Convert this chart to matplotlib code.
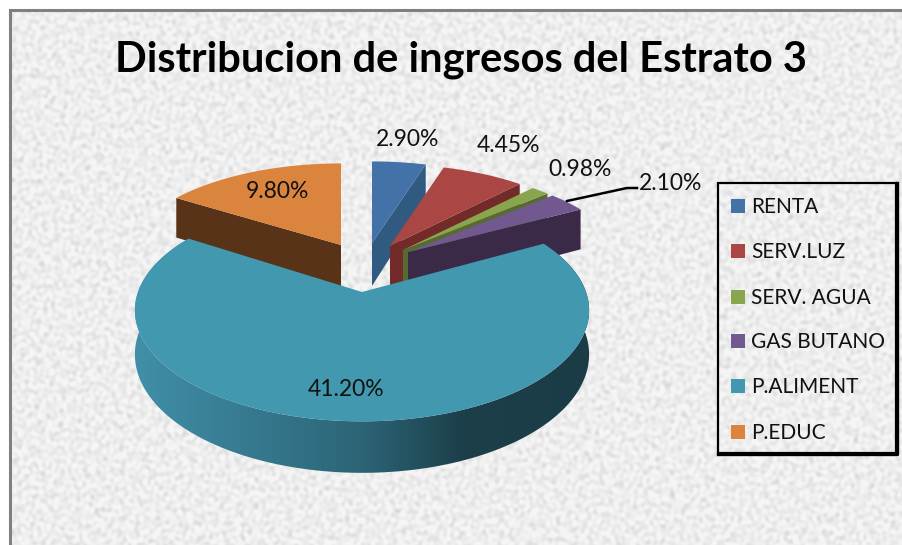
from matplotlib import pyplot as plt
from matplotlib.colors import LinearSegmentedColormap
from matplotlib.patches import Polygon, Rectangle
import numpy as np

categories=['RENTA','SERV.LUZ','SERV. AGUA','GAS BUTANO','P.ALIMENT','P.EDUC']
values=[2.90,4.45,0.98,2.10,41.20,9.80]
value_labels=['2.90%','4.45%','0.98%','2.10%','41.20%','9.80%']
title='Distribucion de ingresos del Estrato 3'

top_colors=['#4372a8','#aa4643','#89a54e','#71588f','#4198af','#db843d']
side_colors=['#315a80','#722b29','#566b30','#3a2a48','#4198af','#583318']

#   Layout, in pixels of the 902x545 picture
apex={0:(372,243),1:(390,246),2:(403,250),3:(408,252),4:(362,292),5:(341,245)}
shrink={0:(.95,.88),1:(.95,.88),2:(.95,.88),3:(.95,.88),4:(1,1),5:(.95,.88)}
label_pos=[(408,140),(508,145),(580,170),(671,184),(346,389),(277,191)]
legend_y=[206,251,297,341,386,432]
RX=224
RY=108
PERSP=.165
DEPTH=43
FONT='Lato'

def Project(i,theta):
    u=np.sin(np.radians(theta))
    v=np.cos(np.radians(theta))
    s=1/(1+PERSP*v)
    x=apex[i][0]+shrink[i][0]*RX*u*s
    y=apex[i][1]-shrink[i][1]*RY*v*s
    return x,y,DEPTH*s

def Draw_background(ax):
    yy,xx=np.mgrid[0:545,0:902]
    tex=np.zeros(xx.shape)
    #   Mottled paper made of many crossing waves
    for i in range(140):
        ang=i*2.399963
        freq=.3+.06*(i%13)
        tex+=np.sin(freq*(xx*np.cos(ang)+yy*np.sin(ang))+i*i*.73)
    tex=tex/tex.std()
    tex=np.minimum(tex,1.2)
    grey=np.clip(.93+.024*tex,0,1)
    ax.imshow(grey,cmap='gray',vmin=0,vmax=1,extent=(0,902,545,0),
              interpolation='bilinear',aspect='auto',zorder=0)
    ax.add_patch(Rectangle((0,0),902,8,color='w',zorder=1))
    ax.add_patch(Rectangle((0,0),8,545,color='w',zorder=1))
    ax.plot([9.5,9.5,902],[545,9.5,9.5],color='#808080',lw=2.2,zorder=2,solid_joinstyle='miter')

def Draw_slice(ax,i,a0,a1,order):
    t=np.linspace(a0,a1,160)
    x,y,d=Project(i,t)
    ax0,ay0=apex[i]

    #   Big slice has a shaded outer wall, the others show only a cut face
    if i==4:
        cmap=LinearSegmentedColormap.from_list('rim',
            [(0,'#418fa9'),(.25,'#367a90'),(.5,'#2c6476'),(.72,'#1c3f4a'),(1,'#1a3c47')])
        rim=Polygon(list(zip(x,y))+list(zip(x[::-1],(y+d)[::-1])),transform=ax.transData,fc='none',lw=0)
        ax.add_patch(rim)
        grad=np.linspace(0,1,256).reshape(1,-1)
        im=ax.imshow(grad,cmap=cmap,vmin=0,vmax=1,aspect='auto',zorder=order,
                     extent=(x.min()-2,x.max()+2,y.max()+d.max()+2,y.min()-2))
        im.set_clip_path(rim)
    else:
        e=a0 if i==5 else a1
        ex,ey,ed=Project(i,e)
        ax.add_patch(Polygon([(ax0,ay0),(ex,ey),(ex,ey+ed),(ax0,ay0+DEPTH)],
                             color=side_colors[i],lw=0,zorder=order))

    pts=[(ax0,ay0)]+list(zip(x,y))
    ax.add_patch(Polygon(pts,color=top_colors[i],lw=0,zorder=order+.5))

def Draw_pie(ax):
    total=sum(values)
    edges=np.concatenate([[0],np.cumsum(values)])/total*360
    for order,i in enumerate([5,0,1,2,3,4]):
        Draw_slice(ax,i,edges[i],edges[i+1],3+order)

    for i,txt in enumerate(value_labels):
        ax.text(label_pos[i][0],label_pos[i][1],txt,fontsize=16.5,family=FONT,
                ha='center',va='center',color='#111111',zorder=20)
    ax.plot([567,627,637],[201,188,188],color='k',lw=1.8,zorder=19)

def Draw_legend(ax):
    ax.add_patch(Rectangle((718,183),178,270,fc='none',ec='k',lw=1.6,zorder=15))
    ax.plot([718,896.5,896.5],[453.5,453.5,183],color='k',lw=2.4,zorder=15)
    for i,name in enumerate(categories):
        ax.add_patch(Rectangle((731,legend_y[i]-7),14,14,color=top_colors[i],lw=0,zorder=16))
        ax.text(751,legend_y[i]+1,name,fontsize=15,family=FONT,ha='left',va='center',
                color='#111111',zorder=16)

fig=plt.figure(figsize=(9.02,5.45),dpi=100)
ax=fig.add_axes([0,0,1,1])
Draw_background(ax)
Draw_pie(ax)
Draw_legend(ax)
ax.text(461,60,title,fontsize=30,family=FONT,fontweight='bold',ha='center',va='center',color='k',zorder=20)
ax.set_xlim(0,902)
ax.set_ylim(545,0)
ax.axis('off')
fig.savefig('out.png',dpi=100)
